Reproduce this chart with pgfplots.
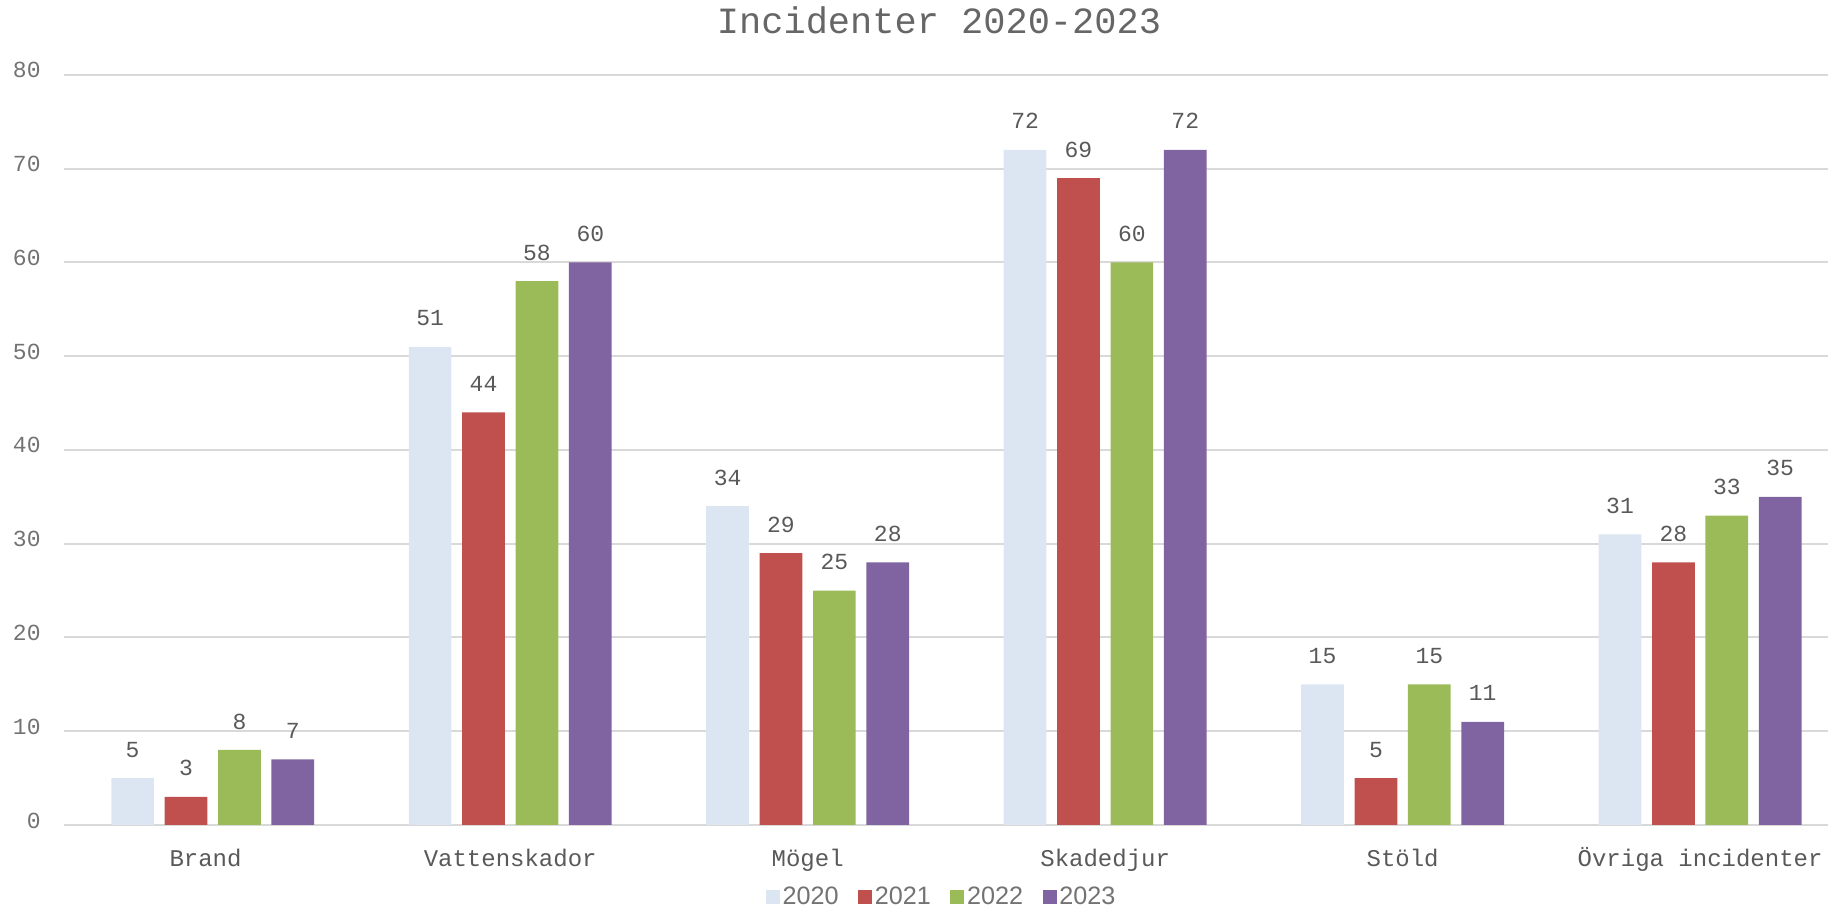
\documentclass[border=0pt]{standalone}
\usepackage{fontspec}
\setmainfont{Liberation Mono}
\newfontfamily\legendfont{Liberation Sans}
\usepackage{pgfplots}
\pgfplotsset{compat=1.18}
\definecolor{c2020}{HTML}{DCE6F2}
\definecolor{c2021}{HTML}{C0504D}
\definecolor{c2022}{HTML}{9BBB59}
\definecolor{c2023}{HTML}{8064A2}
\definecolor{gridc}{HTML}{D9D9D9}
\definecolor{txt}{HTML}{595959}
\definecolor{ticktxt}{HTML}{737373}
\definecolor{titletxt}{HTML}{666666}
\begin{document}
\begin{tikzpicture}
\begin{axis}[
    at={(0,0)}, anchor=south west,
    scale only axis, width=882bp, height=375bp,
    xmin=-0.5, xmax=5.43, ymin=0, ymax=80,
    ybar=5.35bp, bar width=21.35bp,
    ytick={0,10,...,80},
    xtick={0,...,5},
    xticklabels={Brand\phantom{x},Vattenskador,Mögel,Skadedjur,Stöld,Övriga incidenter},
    ymajorgrids,
    major grid style={draw=gridc, line width=1bp},
    axis line style={draw=none},
    tick style={draw=none},
    /pgf/number format/assume math mode=true,
    yticklabel style={anchor=base east, inner sep=0pt, xshift=-11.5bp, yshift=-1.5bp,
        text=ticktxt, font=\fontsize{11.5bp}{13bp}\selectfont},
    xticklabel style={anchor=base, inner sep=0pt, yshift=-16.5bp,
        text=txt, font=\fontsize{12bp}{14bp}\selectfont},
    nodes near coords,
    nodes near coords style={anchor=base, inner sep=0pt, yshift=10.5bp,
        text=txt, font=\fontsize{11.5bp}{13bp}\selectfont},
    legend columns=-1,
    legend style={at={(0.4977,-0.0965)}, anchor=center, draw=none,
        text=ticktxt, font=\legendfont\fontsize{12.6bp}{15bp}\selectfont,
        nodes={inner sep=1.3bp},
        /tikz/every even column/.append style={column sep=8.5bp}},
    legend image code/.code={\fill[#1, draw=none] (0bp,-3.5bp) rectangle (7bp,3.5bp);},
]
\addplot[fill=c2020, draw=none] coordinates {(0,5) (1,51) (2,34) (3,72) (4,15) (5,31)};
\addplot[fill=c2021, draw=none] coordinates {(0,3) (1,44) (2,29) (3,69) (4,5) (5,28)};
\addplot[fill=c2022, draw=none] coordinates {(0,8) (1,58) (2,25) (3,60) (4,15) (5,33)};
\addplot[fill=c2023, draw=none] coordinates {(0,7) (1,60) (2,28) (3,72) (4,11) (5,35)};
\legend{2020,2021,2022,2023}
\end{axis}
\node[anchor=base, inner sep=0pt, text=titletxt, font=\fontsize{18.5bp}{20bp}\selectfont]
    at (437.5bp,395.8bp) {Incidenter 2020-2023};
\pgfresetboundingbox
\path[use as bounding box] (-32bp,-43bp) rectangle (882bp,412.5bp);
\end{tikzpicture}
\end{document}
